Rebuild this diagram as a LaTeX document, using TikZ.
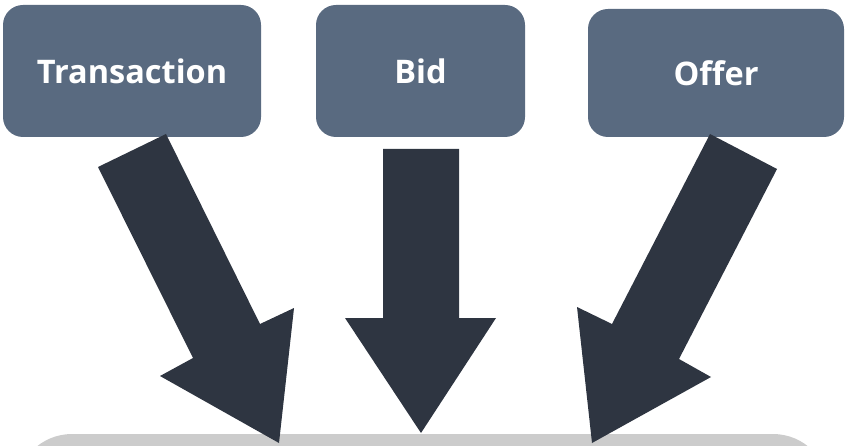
\documentclass[tikz,border=0pt]{standalone}
\usepackage{fontspec}
\setmainfont{Open Sans}
\definecolor{boxfill}{HTML}{596A80}
\definecolor{arrowfill}{HTML}{2E3541}
\definecolor{basefill}{HTML}{CCCCCC}
\tikzset{
  srcbox/.style={fill=boxfill, rounded corners=20pt, inner sep=0pt, text=white,
    font=\bfseries\fontsize{32.5}{38}\selectfont, text depth=0pt},
  blockarrow/.style={fill=arrowfill},
}
\begin{document}
\begin{tikzpicture}[x=1pt,y=-1pt]
\useasboundingbox (0,0) rectangle (845,446);
\clip (0,0) rectangle (845,446);
% base panel (partially visible)
\fill[basefill, rounded corners=56pt] (16,434) rectangle (829,580);
% source boxes
\node[srcbox, minimum width=258pt, minimum height=132pt] (trans) at (132,71) {Transaction};
\node[srcbox, minimum width=209pt, minimum height=132pt] (bid) at (420.5,71) {Bid};
\node[srcbox, minimum width=256pt, minimum height=128pt] (offer) at (716,73) {Offer};
% block arrows
\fill[blockarrow] (98,167) -- (166,134) -- (260,324) -- (294,308) -- (279,443) -- (160,376) -- (193,358) -- cycle;
\fill[blockarrow] (383,149) -- (459,149) -- (459,318) -- (496,318) -- (421,433) -- (345,318) -- (383,318) -- cycle;
\fill[blockarrow] (710,134) -- (777,169) -- (679,359) -- (711,377) -- (592,443) -- (577,307) -- (612,324) -- cycle;
\end{tikzpicture}
\end{document}
